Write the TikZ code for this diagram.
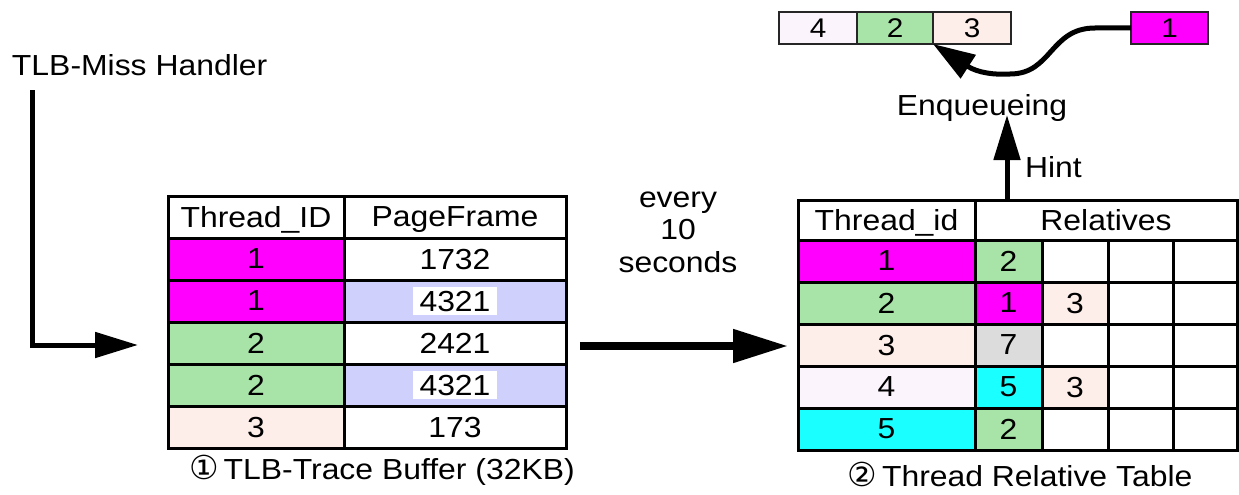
\documentclass[tikz,border=0pt]{standalone}
\usepackage{fontspec}
\setmainfont{Liberation Sans}[FakeStretch=1.1]
\newfontfamily\circfont{DejaVu Sans}
\usetikzlibrary{arrows.meta}
\definecolor{mag}{RGB}{255,0,255}
\definecolor{grn}{RGB}{168,228,168}
\definecolor{pnk}{RGB}{253,238,234}
\definecolor{lav}{RGB}{208,208,252}
\definecolor{plum}{RGB}{252,244,252}
\definecolor{cyn}{RGB}{26,255,255}
\definecolor{gry}{RGB}{220,220,220}
\newcommand\tcell[7]{\node[cell, fill=#6, minimum width=#4pt, minimum height=#5pt] (#1) at (#2,#3) {#7};}
\begin{document}
\begin{tikzpicture}[x=1pt,y=-1pt,
  lbl/.style={font=\fontsize{29}{32}\selectfont, inner sep=0pt, outer sep=0pt, text depth=0pt},
  cell/.style={lbl, draw=black, line width=3pt, anchor=north west},
  whitetag/.style={lbl, fill=white, inner xsep=6.5pt, inner ysep=4pt},
  qbox/.style={lbl, font=\fontsize{27}{30}\selectfont, draw=black!85, line width=1.2pt,
    anchor=north west, minimum height=32pt},
  feed/.style={line width=5pt, line join=miter, -{Triangle[length=43pt,width=25pt]}},
  bigarrow/.style={line width=8pt, -{Triangle[length=55pt,width=32pt]}},
  hintarrow/.style={line width=5pt, -{Triangle[length=45pt,width=26pt]}},
  curvy/.style={line width=5pt, -{Triangle[length=42pt,width=27pt]}}]
\useasboundingbox (0,0) rectangle (1239,495);

% TLB-Trace Buffer
\tcell{a0}{168}{196}{176}{42}{white}{Thread\_ID}
\tcell{b0}{344}{196}{222}{42}{white}{PageFrame}
\tcell{a1}{168}{238}{176}{42}{mag}{1}
\tcell{b1}{344}{238}{222}{42}{white}{1732}
\tcell{a2}{168}{280}{176}{42}{mag}{1}
\tcell{b2}{344}{280}{222}{42}{lav}{}
\node[whitetag] (b2t) at (b2.center) {4321};
\tcell{a3}{168}{322}{176}{42}{grn}{2}
\tcell{b3}{344}{322}{222}{42}{white}{2421}
\tcell{a4}{168}{364}{176}{42}{grn}{2}
\tcell{b4}{344}{364}{222}{42}{lav}{}
\node[whitetag] (b4t) at (b4.center) {4321};
\tcell{a5}{168}{406}{176}{42}{pnk}{3}
\tcell{b5}{344}{406}{222}{42}{white}{173}
\node[lbl] (cap1) at (382,467.5) {{\circfont\fontsize{33}{36}\selectfont ①}\,TLB-Trace Buffer (32KB)};

% Thread Relative Table
\tcell{h0}{798}{200}{177}{40}{white}{Thread\_id}
\tcell{h1}{975}{200}{262}{40}{white}{Relatives}
\tcell{r1a}{798}{240}{177}{42}{mag}{1}
\tcell{r1b}{975}{240}{67}{42}{grn}{2}
\tcell{r1c}{1042}{240}{66}{42}{white}{}
\tcell{r1d}{1108}{240}{65}{42}{white}{}
\tcell{r1e}{1173}{240}{64}{42}{white}{}
\tcell{r2a}{798}{282}{177}{42}{grn}{2}
\tcell{r2b}{975}{282}{67}{42}{mag}{1}
\tcell{r2c}{1042}{282}{66}{42}{pnk}{3}
\tcell{r2d}{1108}{282}{65}{42}{white}{}
\tcell{r2e}{1173}{282}{64}{42}{white}{}
\tcell{r3a}{798}{324}{177}{42}{pnk}{3}
\tcell{r3b}{975}{324}{67}{42}{gry}{7}
\tcell{r3c}{1042}{324}{66}{42}{white}{}
\tcell{r3d}{1108}{324}{65}{42}{white}{}
\tcell{r3e}{1173}{324}{64}{42}{white}{}
\tcell{r4a}{798}{366}{177}{42}{plum}{4}
\tcell{r4b}{975}{366}{67}{42}{cyn}{5}
\tcell{r4c}{1042}{366}{66}{42}{pnk}{3}
\tcell{r4d}{1108}{366}{65}{42}{white}{}
\tcell{r4e}{1173}{366}{64}{42}{white}{}
\tcell{r5a}{798}{408}{177}{42}{cyn}{5}
\tcell{r5b}{975}{408}{67}{42}{grn}{2}
\tcell{r5c}{1042}{408}{66}{42}{white}{}
\tcell{r5d}{1108}{408}{65}{42}{white}{}
\tcell{r5e}{1173}{408}{64}{42}{white}{}
\node[lbl] (cap2) at (1020,474.5) {{\circfont\fontsize{33}{36}\selectfont ②}\,Thread Relative Table};

% TLB-miss handler feeding the trace buffer
\node[lbl, anchor=west] (tlb) at (12,65) {TLB-Miss Handler};
\coordinate (hfoot) at (32,90);
\coordinate (hend) at (138,345);
\draw[feed] (hfoot) |- (hend);

% periodic transfer
\node[lbl, align=center, font=\fontsize{29}{32.5}\selectfont, text depth=] (period) at (678,232) {every\\10\\seconds};
\coordinate (m1) at (580,346);
\coordinate (m2) at (788,346);
\draw[bigarrow] (m1) -- (m2);

% hint and enqueueing
\coordinate (hintfoot) at (1007,200);
\coordinate (hinttip) at (1007,115);
\draw[hintarrow] (hintfoot) -- (hinttip);
\node[lbl, anchor=west] (hint) at (1025,167) {Hint};
\node[lbl] (enq) at (982,105) {Enqueueing};

% run queue
\node[qbox, fill=plum, minimum width=78pt] (q4) at (779,12) {4};
\node[qbox, fill=grn, minimum width=76pt] (q2) at (857,12) {2};
\node[qbox, fill=pnk, minimum width=78pt] (q3) at (933,12) {3};
\node[qbox, fill=mag, minimum width=77pt] (q1) at (1131,12) {1};
\draw[curvy] (q1.west) -- (1095,28) .. controls (1050,28) and (1052,74) .. (1010,74)
  .. controls (995,75) and (978,73) .. (q2.south east);
\end{tikzpicture}
\end{document}
